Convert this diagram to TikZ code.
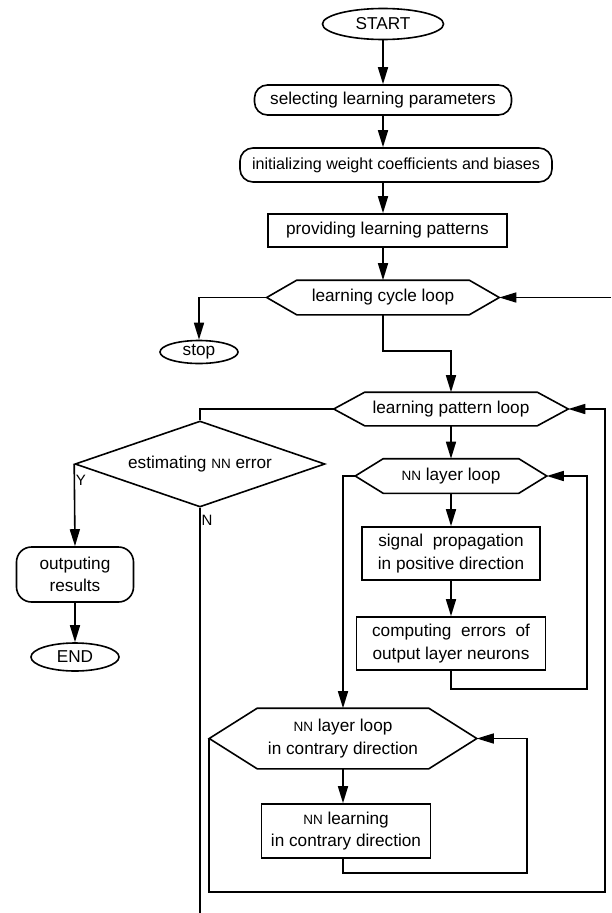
\documentclass[tikz,border=0pt]{standalone}
\usepackage{fontspec}
\setmainfont{Liberation Sans}
\usetikzlibrary{shapes.geometric,arrows.meta}
\newcommand{\nnsc}{{\fontsize{13.5}{13.5}\selectfont NN}}
\newcommand{\hexpath}[2]{\draw[line] ([xshift=#2]#1.north west) -- ([xshift=-#2]#1.north east) -- (#1.east) -- ([xshift=-#2]#1.south east) -- ([xshift=#2]#1.south west) -- (#1.west) -- cycle;}
\begin{document}
\begin{tikzpicture}[x=1pt,y=-1pt,
  line/.style={line width=1.6pt},
  arr/.style={line, -{Triangle[length=17pt,width=10pt]}},
  every node/.style={font=\fontsize{17.2}{22.5}\selectfont, line width=1.6pt, inner sep=0pt, align=center},
  term/.style={draw, ellipse},
  rbox/.style={draw, rectangle, rounded corners=13pt},
  box/.style={draw, rectangle},
  hexn/.style={rectangle, draw=none},
  lab/.style={font=\fontsize{15}{15}\selectfont}]
\useasboundingbox (0,0) rectangle (611,913);
\fill[white] (0,0) rectangle (611,913);

\node[term, minimum width=121pt, minimum height=31pt] (start) at (383,24) {START};
\node[rbox, minimum width=257pt, minimum height=30pt] (sel) at (383,100) {selecting learning parameters};
\node[rbox, minimum width=312pt, minimum height=34pt, font=\fontsize{16.1}{20}\selectfont] (init) at (396,165) {initializing weight coefficients and biases};
\node[box, minimum width=239pt, minimum height=33pt] (prov) at (387.5,230.5) {providing learning patterns};
\node[hexn, minimum width=231pt, minimum height=33pt] (cyc) at (383,297.5) {learning cycle loop};
\hexpath{cyc}{30pt}
\node[term, minimum width=78pt, minimum height=23pt] (stop) at (199,352) {stop};
\node[hexn, minimum width=233pt, minimum height=32pt] (pat) at (451,409) {learning pattern loop};
\hexpath{pat}{31pt}
\node[diamond, draw, minimum width=250pt, minimum height=86pt, aspect=2.9] (est) at (200,464) {estimating \nnsc\ error};
\node[rbox, rounded corners=15pt, minimum width=117pt, minimum height=55pt] (out) at (75,574.5) {outputing\\results};
\node[term, minimum width=88pt, minimum height=28pt] (end) at (75,657) {END};
\node[hexn, minimum width=190pt, minimum height=33pt] (nnl) at (451,476) {\nnsc\ layer loop};
\hexpath{nnl}{28pt}
\node[box, minimum width=178pt, minimum height=53pt] (sig) at (451,553.5) {signal\ \ propagation\\in positive direction};
\node[box, minimum width=189pt, minimum height=53pt] (comp) at (451,643.5) {computing\ \ errors\ \ of\\output layer neurons};
\node[hexn, minimum width=266pt, minimum height=59pt] (con) at (343,738.5) {\nnsc\ layer loop\\in contrary direction};
\hexpath{con}{48pt}
\node[box, minimum width=169pt, minimum height=54pt] (nlr) at (346,831) {\nnsc\ learning\\in contrary direction};

\node[lab] (ylab) at (81,480) {Y};
\node[lab] (nlab) at (207,520) {N};

\coordinate (cycin) at (611,297.5);
\coordinate (nend) at (200,913);
\coordinate (r1) at (587,689);
\coordinate (r2) at (527,873);
\coordinate (r3) at (605,892);

\draw[arr] (start) -- (sel);
\draw[arr] (sel.south) -- (sel.south |- init.north);
\draw[arr] (sel.south |- init.south) -- (sel.south |- prov.north);
\draw[arr] (sel.south |- prov.south) -- (cyc.north);
\draw[arr] (cycin) -- (cyc.east);
\draw[arr] (cyc.west) -| (stop.north);
\draw[arr] (cyc.south) -- ++(0,36) -| (pat.north);
\draw[line] (pat.west) -| (est.north);
\draw[arr] (pat.south) -- (nnl.north);
\draw[arr] (est.west) -- (out.north);
\draw[arr] (out) -- (end);
\draw[line] (est.south) -- (nend);
\draw[arr] (nnl.south) -- (sig.north);
\draw[arr] (sig) -- (comp);
\draw[arr] (comp.south) |- (r1) |- (nnl.east);
\draw[arr] (nnl.west) -| (con.north);
\draw[arr] (con.south) -- (con.south |- nlr.north);
\draw[arr] (con.south |- nlr.south) |- (r2) |- (con.east);
\draw[arr] (con.west) |- (r3) |- (pat.east);
\end{tikzpicture}
\end{document}
